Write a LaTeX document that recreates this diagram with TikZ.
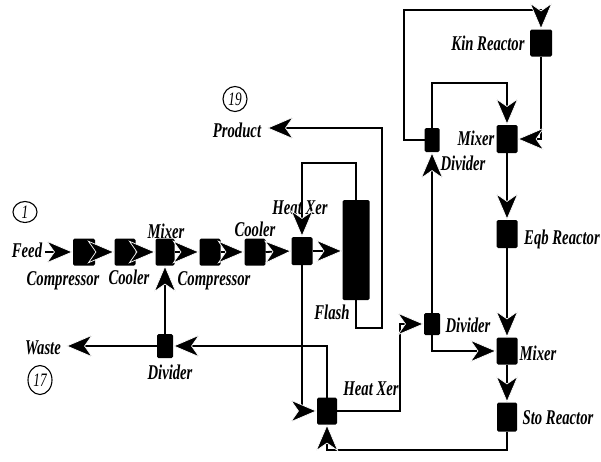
\documentclass[tikz,border=0pt]{standalone}
\usepackage{fontspec}
\newfontfamily\labfont[FakeStretch=0.7]{Liberation Serif}
\usetikzlibrary{arrows.meta,shapes.geometric}
\begin{document}
\begin{tikzpicture}[x=1pt,y=-1pt,
  blk/.style 2 args={fill=black, rounded corners=1.5pt, inner sep=0pt, outer sep=0pt, minimum width=#1pt, minimum height=#2pt},
  lab/.style={font={\labfont\fontsize{21}{22}\selectfont\bfseries\itshape}, inner sep=0pt, anchor=base},
  circ/.style={draw, ellipse, line width=1.1pt, inner sep=0pt, minimum width=24pt, font={\labfont\fontsize{19}{19}\selectfont\itshape}},
  flow/.style={line width=1.8pt, -{Stealth[length=27pt,width=23pt,inset=8pt,fill=black,color=white,line width=0.7pt]}}
]
\useasboundingbox (0,0) rectangle (601,461);
% blocks
\node[blk={22}{27}] (comp1) at (84,252) {};
\node[blk={21}{27}] (cool1) at (125,252) {};
\node[blk={19}{27}] (mix1) at (165,252) {};
\node[blk={21}{27}] (comp2) at (210,252) {};
\node[blk={21}{27}] (cool2) at (255,252) {};
\node[blk={21}{28}] (hx1) at (302,251) {};
\node[blk={27}{100}] (flash) at (356,250) {};
\node[blk={16}{24}] (div1) at (165,346) {};
\node[blk={20}{27}] (hx2) at (327,411) {};
\node[blk={16}{22}] (div2) at (432,324) {};
\node[blk={21}{27}] (mix2) at (507,351) {};
\node[blk={20}{29}] (sto) at (507,417) {};
\node[blk={21}{28}] (eqb) at (507,234) {};
\node[blk={15}{24}] (div3) at (432,140) {};
\node[blk={21}{28}] (mix3) at (507,139) {};
\node[blk={22}{27}] (kin) at (541,43) {};
% labels
\node[lab] (feed) at (27,257) {Feed};
\node[lab] at (63,285) {Compressor};
\node[lab] at (129,284) {Cooler};
\node[lab] at (166,238) {Mixer};
\node[lab] at (214,285) {Compressor};
\node[lab] at (255,236) {Cooler};
\node[lab] at (300,214) {Heat Xer};
\node[lab] at (332,319) {Flash};
\node[lab] (product) at (237,137) {Product};
\node[lab] (waste) at (43,354) {Waste};
\node[lab] at (170,379) {Divider};
\node[lab] at (371,395) {Heat Xer};
\node[lab] at (468,332) {Divider};
\node[lab] at (538,360) {Mixer};
\node[lab] at (558,424) {Sto Reactor};
\node[lab] at (562,244) {Eqb Reactor};
\node[lab] at (463,170) {Divider};
\node[lab] at (476,145) {Mixer};
\node[lab] at (488,50) {Kin Reactor};
\node[circ, minimum height=21pt] (n1) at (25,212) {1};
\node[circ, minimum height=29pt] (n17) at (40,380) {17};
\node[circ, minimum height=25pt] (n19) at (235,99) {19};
% free ends
\coordinate (feedout) at (45,252);
\coordinate (prodin) at (267,128);
\coordinate (wastein) at (66,346);
% connectors
\draw[flow] (feedout) -- (comp1.west);
\draw[flow] (comp1.east) -- (cool1.west);
\draw[flow] (cool1.east) -- (mix1.west);
\draw[flow] (mix1.east) -- (comp2.west);
\draw[flow] (comp2.east) -- (cool2.west);
\draw[flow] (cool2.east) -- (hx1.west);
\draw[flow] (hx1.east) -- (hx1.east -| flash.west);
\draw[flow] (flash.north) -- ++(0,-37) -| (hx1.north);
\draw[flow] (flash.south) |- (382,328) -- (382,128) -- (prodin);
\draw[flow] (hx1.south) |- (hx2.west);
\draw[flow] (hx2.north) |- (div1.east);
\draw[flow] (div1.west) -- (wastein);
\draw[flow] (div1.north) -- (div1.north |- mix1.south);
\draw[flow] (hx2.east) -| (400,370) |- (div2.west);
\draw[flow] (sto.south) -- (sto.south |- 0,450) -| (hx2.south);
\draw[flow] (mix2.south) -- (sto.north);
\draw[flow] (div2.south) |- (mix2.west);
\draw[flow] (div2.north) -- (div3.south);
\draw[flow] (eqb.south) -- (mix2.north);
\draw[flow] (mix3.south) -- (eqb.north);
\draw[flow] (div3.north) -- (div3.north |- 0,83) -| (mix3.north);
\draw[flow] (div3.west) -| (404,10) -| (kin.north);
\draw[flow] (kin.south) |- (mix3.east);
\end{tikzpicture}
\end{document}
